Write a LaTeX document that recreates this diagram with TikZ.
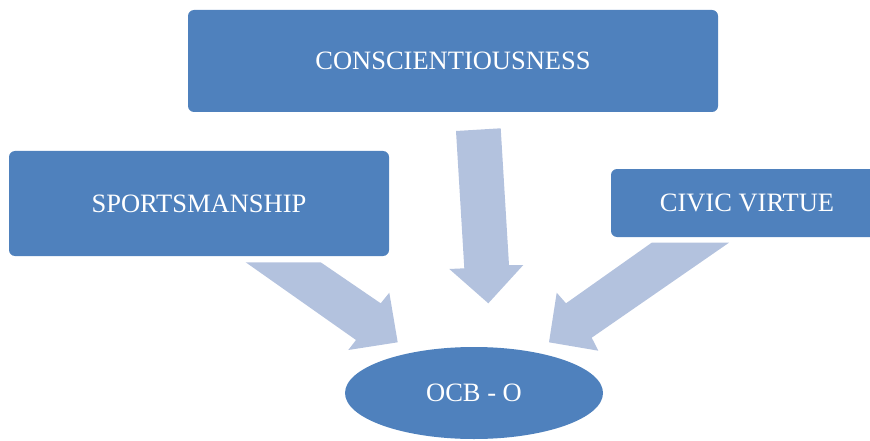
\documentclass[tikz,border=0pt]{standalone}
\usepackage{fontspec}
\setmainfont{Liberation Serif}
\usetikzlibrary{shapes.geometric}
\definecolor{boxblue}{RGB}{79,129,189}
\definecolor{arrowblue}{RGB}{179,194,222}
\tikzset{
  boxnode/.style={draw=none, fill=boxblue, rounded corners=6pt, text=white,
    font=\fontsize{26.5}{30}\selectfont, inner sep=0pt},
  ovalnode/.style={ellipse, draw=none, fill=boxblue, text=white,
    font=\fontsize{26.5}{30}\selectfont, inner sep=0pt},
  blockarrow/.style={fill=arrowblue, draw=none}
}
\begin{document}
\begin{tikzpicture}[x=1pt,y=-1pt]
\useasboundingbox (0,0) rectangle (870,441);
\begin{scope}
\clip (0,0) rectangle (870,441);
% boxes
\node[boxnode, minimum width=530pt, minimum height=102pt] (cons) at (453,61) {CONSCIENTIOUSNESS};
\node[boxnode, minimum width=380pt, minimum height=105pt] (sport) at (199,203.5) {SPORTSMANSHIP};
\node[boxnode, minimum width=272pt, minimum height=68pt] (civic) at (747,203) {CIVIC VIRTUE};
\node[ovalnode, minimum width=258pt, minimum height=92pt] (ocb) at (474,393) {OCB - O};
% block arrows
\fill[blockarrow] (456,131) -- (500.7,128.3) -- (509,265) -- (523.3,265) -- (488.3,303.3) -- (449.3,269) -- (464.3,268.3) -- cycle;
\fill[blockarrow] (245.7,262.3) -- (320.7,262.3) -- (380.7,303.3) -- (389.3,292.7) -- (397.7,342.3) -- (348.3,350) -- (356,340) -- cycle;
\fill[blockarrow] (651.7,242.7) -- (729,242.7) -- (591.7,337.7) -- (598.3,350.7) -- (549,342.3) -- (556.7,292.7) -- (566,303.3) -- cycle;
\end{scope}
\end{tikzpicture}
\end{document}
